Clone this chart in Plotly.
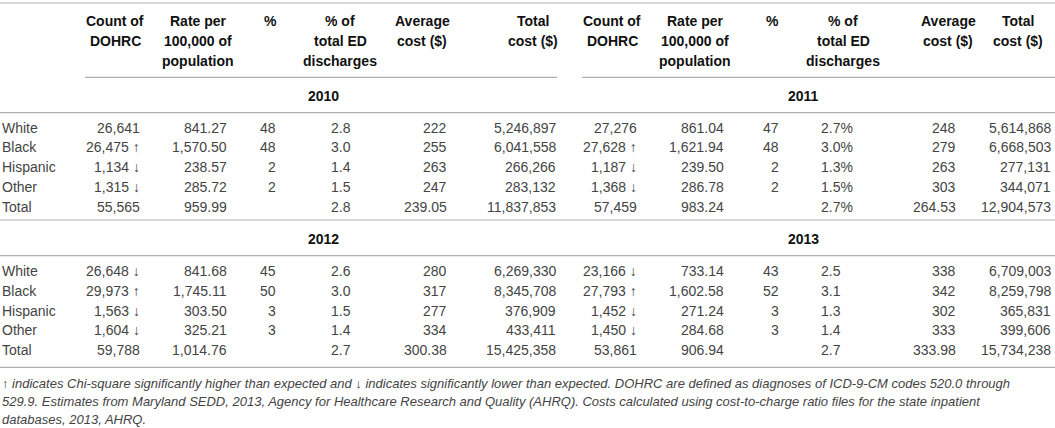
import plotly.graph_objects as go

# ---------------- data ----------------
years = ["2010", "2011", "2012", "2013"]
groups = ["White", "Black", "Hispanic", "Other", "Total"]
header_cols = ["Count of<br>DOHRC", "Rate per<br>100,000 of<br>population", "%",
               "% of<br>total ED<br>discharges", "Average<br>cost ($)", "Total<br>cost ($)"]

count_dohrc = [
    [26641, 26475, 1134, 1315, 55565],
    [27276, 27628, 1187, 1368, 57459],
    [26648, 29973, 1563, 1604, 59788],
    [23166, 27793, 1452, 1450, 53861],
]
significance = [
    ["", "↑", "↓", "↓", ""],
    ["", "↑", "↓", "↓", ""],
    ["↓", "↑", "↓", "↓", ""],
    ["↓", "↑", "↓", "↓", ""],
]
rate_per_100k = [
    [841.27, 1570.50, 238.57, 285.72, 959.99],
    [861.04, 1621.94, 239.50, 286.78, 983.24],
    [841.68, 1745.11, 303.50, 325.21, 1014.76],
    [733.14, 1602.58, 271.24, 284.68, 906.94],
]
percent = [
    [48, 48, 2, 2, None],
    [47, 48, 2, 2, None],
    [45, 50, 3, 3, None],
    [43, 52, 3, 3, None],
]
pct_ed_discharges = [
    [2.8, 3.0, 1.4, 1.5, 2.8],
    [2.7, 3.0, 1.3, 1.5, 2.7],
    [2.6, 3.0, 1.5, 1.4, 2.7],
    [2.5, 3.1, 1.3, 1.4, 2.7],
]
pct_ed_suffix = ["", "%", "", ""]
average_cost = [
    [222, 255, 263, 247, 239.05],
    [248, 279, 263, 303, 264.53],
    [280, 317, 277, 334, 300.38],
    [338, 342, 302, 333, 333.98],
]
total_cost = [
    [5246897, 6041558, 266266, 283132, 11837853],
    [5614868, 6668503, 277131, 344071, 12904573],
    [6269330, 8345708, 376909, 433411, 15425358],
    [6709003, 8259798, 365831, 399606, 15734238],
]
footnote_lines = [
    "↑ indicates Chi-square significantly higher than expected and ↓ indicates significantly lower than expected. DOHRC are defined as diagnoses of ICD-9-CM codes 520.0 through",
    "529.9. Estimates from Maryland SEDD, 2013, Agency for Healthcare Research and Quality (AHRQ). Costs calculated using cost-to-charge ratio files for the state inpatient",
    "databases, 2013, AHRQ.",
]

# ---------------- layout constants ----------------
W, H = 1055, 428
FONT = "Liberation Sans, Arial, Helvetica, sans-serif"
TXT = "#444444"
HEAD = "#111111"
RULE = "#b0b0b0"

halves = [
    {"label": 0,
     "cols": [(142, "right"), (229, "right"), (278, "right"), (329, "left"), (449, "right"), (558, "right")],
     "heads": [115, 198, 270, 340, 422, 533],
     "rule": (85, 557), "year_x": 323},
    {"label": None,
     "cols": [(639, "right"), (726, "right"), (781, "right"), (819, "left"), (958, "right"), (1053, "right")],
     "heads": [612, 695, 772, 843, 948, 1018],
     "rule": (582, 1055), "year_x": 803},
]
block_rows_y = [127.5, 271.0]
row_step = 19.8
block_year_y = [95.5, 238.5]
head_y = [20.5, 40.5, 60.5]
foot_y = [383.5, 401.7, 419.8]

annotations = []
shapes = []


def ann(x, y, text, anchor="left", size=14, color=TXT, bold=False, italic=False):
    annotations.append(dict(
        x=x, y=y, xref="x", yref="y", text=text, showarrow=False,
        xanchor=anchor, yanchor="middle",
        font=dict(family=FONT, size=size, color=color,
                  weight="bold" if bold else "normal",
                  style="italic" if italic else "normal"),
    ))


def hline(x0, x1, y):
    shapes.append(dict(type="line", xref="x", yref="y", x0=x0, x1=x1, y0=y, y1=y,
                       line=dict(color=RULE, width=1.2)))


def fmt_int(v):
    return f"{v:,}"


def fmt_avg(v):
    return f"{v:,.2f}" if isinstance(v, float) else f"{v:,}"


# headers
for h in halves:
    for cx, head in zip(h["heads"], header_cols):
        for li, line in enumerate(head.split("<br>")):
            ann(cx, head_y[li], line, anchor="center", color=HEAD, bold=True)

# rules
hline(0, W, 3.0)
for h in halves:
    hline(h["rule"][0], h["rule"][1], 77.3)
for y in [112.7, 220.0, 255.7, 367.3]:
    hline(0, W, y)

# body
for yi, year in enumerate(years):
    block = yi // 2
    h = halves[yi % 2]
    ann(h["year_x"], block_year_y[block], year, anchor="center", color=HEAD, bold=True)
    for gi, grp in enumerate(groups):
        y = block_rows_y[block] + gi * row_step
        if yi % 2 == 0:
            ann(h["label"], y, grp, anchor="left")
        c = fmt_int(count_dohrc[yi][gi])
        if significance[yi][gi]:
            c += " " + significance[yi][gi]
        p = percent[yi][gi]
        values = [
            c,
            f"{rate_per_100k[yi][gi]:,.2f}",
            "" if p is None else str(p),
            f"{pct_ed_discharges[yi][gi]:.1f}{pct_ed_suffix[yi]}",
            fmt_avg(average_cost[yi][gi]),
            fmt_int(total_cost[yi][gi]),
        ]
        for (cx, anc), v in zip(h["cols"], values):
            if v:
                ann(cx, y, v, anchor=anc)

# footnote
for li, line in enumerate(footnote_lines):
    ann(0, foot_y[li], line, anchor="left", size=13, italic=True)

fig = go.Figure()
fig.update_layout(
    width=W, height=H,
    margin=dict(l=0, r=0, t=0, b=0),
    paper_bgcolor="white", plot_bgcolor="white",
    xaxis=dict(range=[0, W], visible=False, fixedrange=True),
    yaxis=dict(range=[H, 0], visible=False, fixedrange=True),
    annotations=annotations, shapes=shapes,
    showlegend=False,
)
fig.write_html(
    "out.html",
    config={"displayModeBar": False},
    post_script="document.body.style.margin='0';document.body.style.overflow='hidden';",
)
